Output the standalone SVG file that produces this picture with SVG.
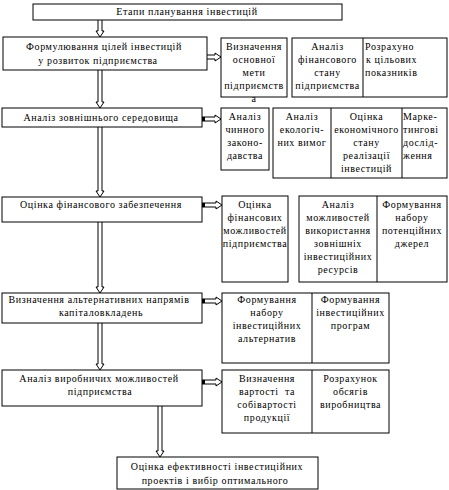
<svg xmlns="http://www.w3.org/2000/svg" width="449" height="490" viewBox="0 0 449 490">
<style>
rect.b{fill:#fff;stroke:#000;stroke-width:1}
line.d{stroke:#000;stroke-width:1}
text{font-family:"Liberation Serif","Times New Roman",serif;font-size:10px;letter-spacing:0.6px;fill:#000;text-anchor:middle}
text.l{text-anchor:start}
path.ar{fill:#fff;stroke:#000;stroke-width:1}
rect.sq{fill:#000}
</style>
<rect width="449" height="490" fill="#fff"/>
<g id="connectors">
<path class="ar" d="M98,20 V31 H96 L100,37 L104,31 H102 V20"/>
<path class="ar" d="M98,70 V102 H96 L100,108 L104,102 H102 V70"/>
<path class="ar" d="M98,127 V191 H96 L100,197 L104,191 H102 V127"/>
<path class="ar" d="M98,222 V287 H96 L100,293 L104,287 H102 V222"/>
<path class="ar" d="M98,323 V364 H96 L100,370 L104,364 H102 V323"/>
<path class="ar" d="M158,406 V451 H156 L160,457 L164,451 H162 V406"/>
<path class="ar" d="M207,55 H215 V53 L221,57 L215,61 V59 H207"/>
<path class="ar" d="M202,117 H215 V115 L221,119 L215,123 V121 H202"/>
<rect class="sq" x="202" y="117" width="3" height="4"/>
<path class="ar" d="M202,203 H216 V201 L222,205 L216,209 V207 H202"/>
<rect class="sq" x="202" y="203" width="3" height="4"/>
<path class="ar" d="M202,299 H216 V297 L222,301 L216,305 V303 H202"/>
<rect class="sq" x="202" y="299" width="3" height="4"/>
<path class="ar" d="M202,380 H216 V378 L222,382 L216,386 V384 H202"/>
<rect class="sq" x="202" y="380" width="3" height="4"/>
</g>
<g id="title">
<rect class="b" x="33" y="4" width="309" height="16"/>
<text x="187" y="15">Етапи планування інвестицій</text>
</g>
<g id="step1">
<rect class="b" x="3" y="37" width="204" height="33"/>
<text x="104" y="50">Формулювання цілей інвестицій</text>
<text x="98" y="64">у розвиток підприємства</text>
</g>
<g id="step1-goal">
<rect class="b" x="221" y="38" width="66" height="59"/>
<text x="254" y="50">Визначення</text>
<text x="254" y="63">основної</text>
<text x="254" y="76">мети</text>
<text x="254" y="89">підприємств</text>
<text x="254" y="102">а</text>
</g>
<g id="step1-group">
<rect class="b" x="292" y="38" width="155" height="59"/>
<line class="d" x1="363" y1="38" x2="363" y2="97"/>
<text x="327.5" y="50">Аналіз</text>
<text x="327.5" y="63">фінансового</text>
<text x="327.5" y="76">стану</text>
<text x="327.5" y="89">підприємства</text>
<text class="l" x="365" y="50">Розрахуно</text>
<text class="l" x="366" y="63">к цільових</text>
<text class="l" x="365" y="76">показників</text>
</g>
<g id="step2">
<rect class="b" x="2" y="108" width="200" height="19"/>
<text x="101" y="121">Аналіз зовнішнього середовища</text>
</g>
<g id="step2-law">
<rect class="b" x="221" y="108" width="48" height="62"/>
<text x="245" y="120">Аналіз</text>
<text x="245" y="133">чинного</text>
<text x="245" y="146">законо-</text>
<text x="245" y="159">давства</text>
</g>
<g id="step2-group">
<rect class="b" x="273" y="108" width="174" height="70"/>
<line class="d" x1="331" y1="108" x2="331" y2="178"/>
<line class="d" x1="402" y1="108" x2="402" y2="178"/>
<text x="302" y="120">Аналіз</text>
<text x="302" y="133">екологіч-</text>
<text x="302" y="146">них вимог</text>
<text x="366.5" y="120">Оцінка</text>
<text x="366.5" y="133">економічного</text>
<text x="366.5" y="146">стану</text>
<text x="366.5" y="159">реалізації</text>
<text x="366.5" y="172">інвестицій</text>
<text class="l" x="403" y="120">Марке-</text>
<text class="l" x="403" y="133">тингові</text>
<text class="l" x="403" y="146">дослід-</text>
<text class="l" x="403" y="159">ження</text>
</g>
<g id="step3">
<rect class="b" x="2" y="197" width="200" height="25"/>
<text x="101" y="208">Оцінка фінансового забезпечення</text>
</g>
<g id="step3-fin">
<rect class="b" x="222" y="196" width="66" height="86"/>
<text x="255" y="208">Оцінка</text>
<text x="255" y="221">фінансових</text>
<text x="255" y="234">можливостей</text>
<text x="255" y="247">підприємства</text>
</g>
<g id="step3-group">
<rect class="b" x="299" y="196" width="148" height="86"/>
<line class="d" x1="377" y1="196" x2="377" y2="282"/>
<text x="338" y="208">Аналіз</text>
<text x="338" y="221">можливостей</text>
<text x="338" y="234">використання</text>
<text x="338" y="247">зовнішніх</text>
<text x="338" y="260">інвестиційних</text>
<text x="338" y="273">ресурсів</text>
<text x="412" y="208">Формування</text>
<text x="412" y="221">набору</text>
<text x="412" y="234">потенційних</text>
<text x="412" y="247">джерел</text>
</g>
<g id="step4">
<rect class="b" x="2" y="293" width="200" height="30"/>
<text x="99" y="303">Визначення альтернативних напрямів</text>
<text x="101" y="316">капіталовкладень</text>
</g>
<g id="step4-group">
<rect class="b" x="222" y="293" width="167" height="70"/>
<line class="d" x1="312" y1="293" x2="312" y2="363"/>
<text x="267" y="303">Формування</text>
<text x="267" y="316">набору</text>
<text x="267" y="329">інвестиційних</text>
<text x="267" y="342">альтернатив</text>
<text x="350.5" y="303">Формування</text>
<text x="350.5" y="316">інвестиційних</text>
<text x="350.5" y="329">програм</text>
</g>
<g id="step5">
<rect class="b" x="2" y="370" width="200" height="36"/>
<text x="99" y="382">Аналіз виробничих можливостей</text>
<text x="100" y="395">підприємства</text>
</g>
<g id="step5-group">
<rect class="b" x="222" y="370" width="167" height="63"/>
<line class="d" x1="312" y1="370" x2="312" y2="433"/>
<text x="267" y="382">Визначення</text>
<text x="267" y="395" xml:space="preserve">вартості  та</text>
<text x="267" y="408">собівартості</text>
<text x="267" y="421">продукції</text>
<text x="350.5" y="382">Розрахунок</text>
<text x="350.5" y="395">обсягів</text>
<text x="350.5" y="408">виробництва</text>
</g>
<g id="final">
<rect class="b" x="117" y="457" width="201" height="32"/>
<text x="217" y="470">Оцінка ефективності інвестиційних</text>
<text x="215" y="484">проектів і вибір оптимального</text>
</g>
</svg>
